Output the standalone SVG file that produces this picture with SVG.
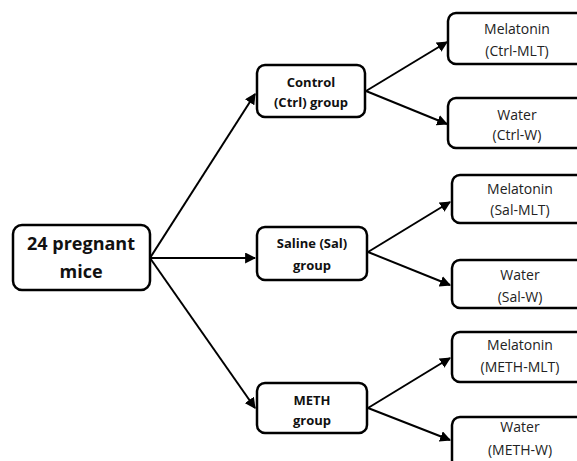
<svg xmlns="http://www.w3.org/2000/svg" width="577" height="461" viewBox="0 0 577 461">
<style>
.box{fill:#fff;stroke:#000;stroke-width:2.5}
.t{font-family:"Open Sans","Liberation Sans",sans-serif;fill:#222;text-anchor:middle}
.b{font-weight:bold;fill:#111}
.c line{stroke:#000;stroke-width:2;marker-end:url(#ah)}
</style>
<defs>
<marker id="ah" viewBox="0 0 10 10" refX="9" refY="5" markerWidth="5.5" markerHeight="5.5" orient="auto" markerUnits="strokeWidth">
<path d="M0,0 L10,5 L0,10 z" fill="#000"/>
</marker>
</defs>
<rect width="577" height="461" fill="#fff"/>
<g class="c" id="connectors">
<line x1="150" y1="258" x2="255" y2="94"/>
<line x1="150" y1="258" x2="255" y2="258"/>
<line x1="150" y1="258" x2="255" y2="408"/>
<line x1="366" y1="91" x2="447" y2="42"/>
<line x1="366" y1="91" x2="447" y2="124"/>
<line x1="368" y1="252" x2="450" y2="202"/>
<line x1="368" y1="252" x2="450" y2="285"/>
<line x1="368" y1="408" x2="450" y2="358"/>
<line x1="368" y1="408" x2="450" y2="440"/>
</g>
<g id="mice">
<rect class="box" x="13" y="225" width="137" height="65" rx="9"/>
<text class="t b" x="81" y="250" font-size="18">24 pregnant</text>
<text class="t b" x="81" y="278" font-size="18">mice</text>
</g>
<g id="ctrl">
<rect class="box" x="257" y="65" width="108" height="52" rx="8"/>
<text class="t b" x="311" y="87" font-size="13">Control</text>
<text class="t b" x="311" y="107" font-size="13">(Ctrl) group</text>
</g>
<g id="sal">
<rect class="box" x="257" y="227" width="110" height="53" rx="8"/>
<text class="t b" x="312" y="248" font-size="13">Saline (Sal)</text>
<text class="t b" x="312" y="270" font-size="13">group</text>
</g>
<g id="meth">
<rect class="box" x="257" y="383" width="110" height="50" rx="8"/>
<text class="t b" x="312" y="405" font-size="13">METH</text>
<text class="t b" x="312" y="425" font-size="13">group</text>
</g>
<g id="ctrl-mlt">
<rect class="box" x="448" y="13" width="140" height="51" rx="8"/>
<text class="t" x="517" y="34" font-size="14">Melatonin</text>
<text class="t" x="517" y="56" font-size="14">(Ctrl-MLT)</text>
</g>
<g id="ctrl-w">
<rect class="box" x="448" y="98" width="140" height="50" rx="8"/>
<text class="t" x="517" y="120" font-size="14">Water</text>
<text class="t" x="517" y="140" font-size="14">(Ctrl-W)</text>
</g>
<g id="sal-mlt">
<rect class="box" x="452" y="175" width="140" height="48" rx="8"/>
<text class="t" x="520" y="194" font-size="14">Melatonin</text>
<text class="t" x="520" y="215" font-size="14">(Sal-MLT)</text>
</g>
<g id="sal-w">
<rect class="box" x="452" y="260" width="140" height="48" rx="8"/>
<text class="t" x="520" y="280" font-size="14">Water</text>
<text class="t" x="520" y="302" font-size="14">(Sal-W)</text>
</g>
<g id="meth-mlt">
<rect class="box" x="452" y="332" width="140" height="50" rx="8"/>
<text class="t" x="520" y="350" font-size="14">Melatonin</text>
<text class="t" x="520" y="372" font-size="14">(METH-MLT)</text>
</g>
<g id="meth-w">
<rect class="box" x="452" y="417" width="140" height="60" rx="8"/>
<text class="t" x="520" y="432" font-size="14">Water</text>
<text class="t" x="520" y="455" font-size="14">(METH-W)</text>
</g>
</svg>
